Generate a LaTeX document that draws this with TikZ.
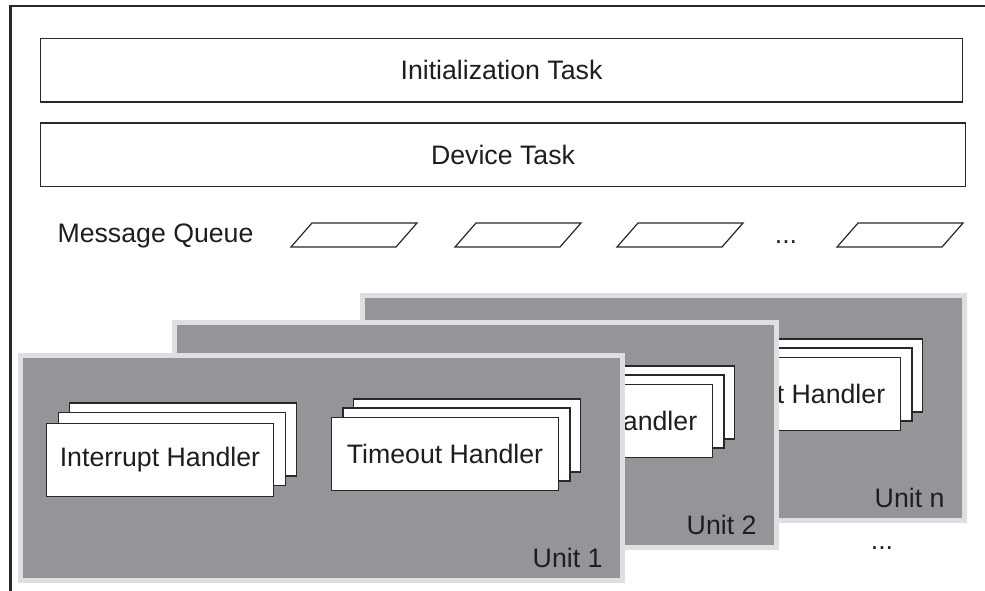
\documentclass[tikz,border=0pt]{standalone}
\usepackage{fontspec}
\setmainfont{Liberation Sans}
\usetikzlibrary{positioning}
\definecolor{unitGray}{RGB}{148,149,153}
\definecolor{unitEdge}{RGB}{222,223,225}
\definecolor{lineDark}{RGB}{40,40,40}
\definecolor{textDark}{RGB}{30,30,30}

\begin{document}
\begin{tikzpicture}[
  x=1pt, y=-1pt,
  font=\fontsize{26.7}{32}\selectfont, text=textDark,
  task/.style={draw=lineDark, line width=1.5pt, fill=white, minimum width=922pt, minimum height=63.5pt, inner sep=0pt},
  queue/.style={draw=lineDark, line width=1.2pt, line join=miter},
  unit/.style={draw=unitEdge, fill=unitGray, line width=5pt, minimum width=602pt, minimum height=225pt, inner sep=0pt},
  handler/.style={draw=lineDark, fill=white, line width=1.2pt, minimum width=227pt, minimum height=73pt, inner sep=0pt},
  unitlabel/.style={anchor=base east}
]
\useasboundingbox (0,0) rectangle (985,590);

% outer frame, cut off at right and bottom
\draw[lineDark, line width=2.5pt] (10.5,592) -- (10.5,6) -- (987,6);

% task layer
\node[task] (init) at (501.5,70) {Initialization Task};
\node[task, minimum width=925pt] (device) at (503,154.5) {Device Task};

% message queues
\node[anchor=base west] (mq) at (54,242.5) {Message Queue};
\foreach \qx in {291,455,617,837}
  \draw[queue] (\qx,247) -- (\qx+21,223) -- (\qx+126,223) -- (\qx+105,247) -- cycle;
\node[anchor=base] (qdots) at (786,243.5) {...};

% units, back to front
\foreach \dx/\dy/\num/\nm in {342/-60/n/unitn, 154/-33/2/unittwo, 0/0/1/unitone} {
  \begin{scope}[shift={(\dx,\dy)}]
    \node[unit] (\nm) at (321.5,468) {};
    \node[handler] (\nm-irqback) at (183,439.5) {};
    \node[handler] (\nm-irqmid) at (172,449) {};
    \node[handler] (\nm-irq) at (160,460) {Interrupt Handler};
    \node[handler] (\nm-tmoback) at (467,435.5) {};
    \node[handler] (\nm-tmomid) at (456.5,444.5) {};
    \node[handler] (\nm-tmo) at (445,454) {Timeout Handler};
    \node[unitlabel] (\nm-label) at (606,567) {Unit \num};
  \end{scope}
}
\node[anchor=base] (moreunits) at (882,549) {...};
\end{tikzpicture}
\end{document}
